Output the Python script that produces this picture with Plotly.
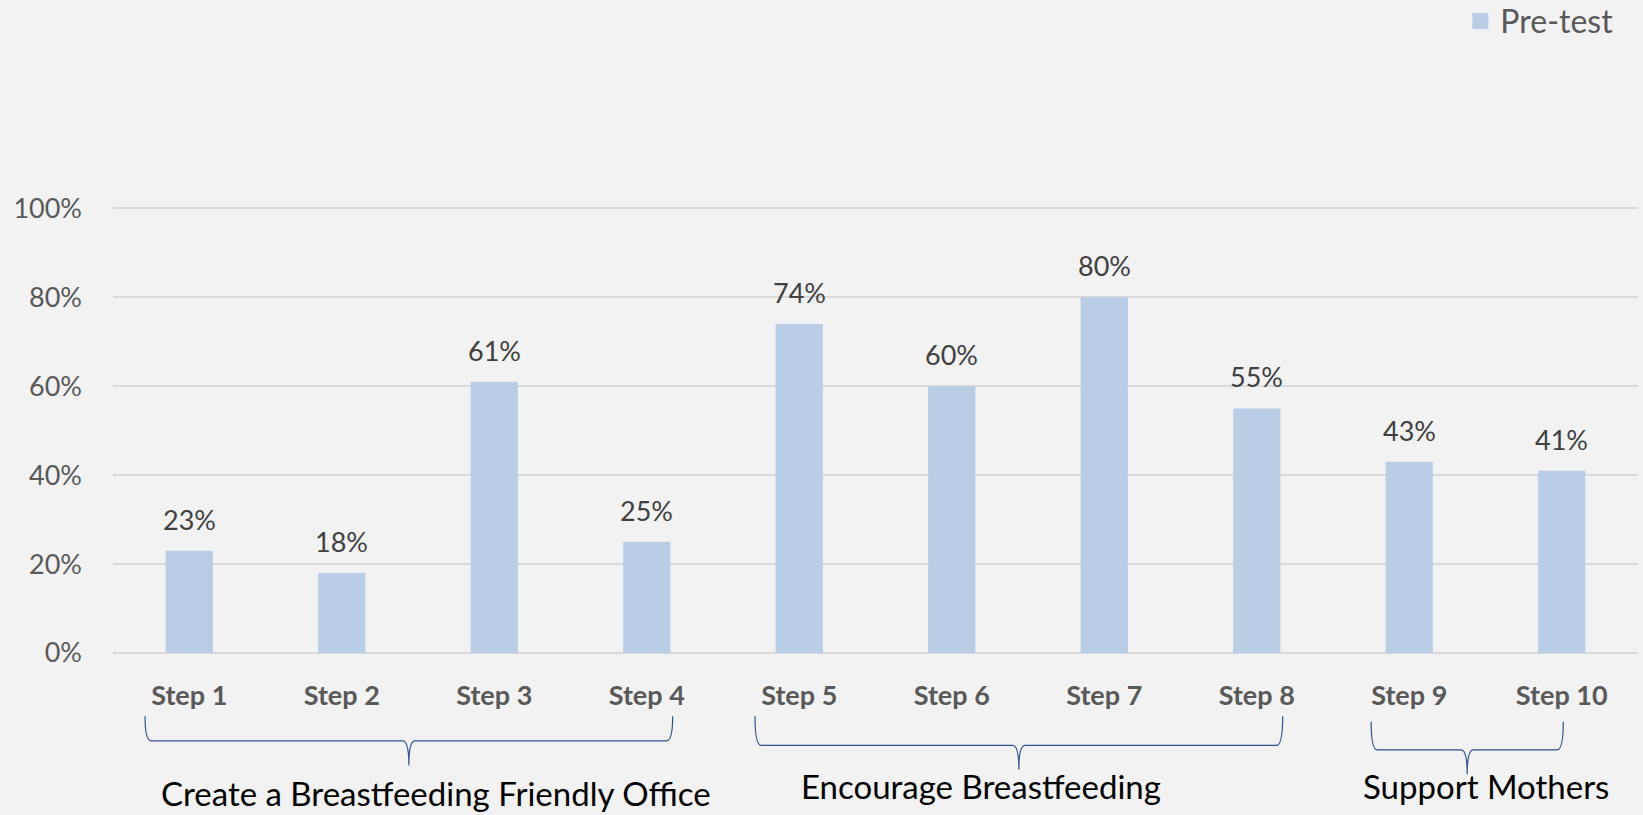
import plotly.graph_objects as go

# Chart data
steps = ["Step 1", "Step 2", "Step 3", "Step 4", "Step 5",
         "Step 6", "Step 7", "Step 8", "Step 9", "Step 10"]
pre_test = [0.23, 0.18, 0.61, 0.25, 0.74, 0.60, 0.80, 0.55, 0.43, 0.41]

group_names = ["Create a Breastfeeding Friendly Office", "Encourage Breastfeeding", "Support Mothers"]
group_first = [0, 4, 8]
group_last = [3, 7, 9]

bar_color = "#B9CDE5"
font_main = "Lato, Calibri, Arial, sans-serif"

fig = go.Figure()
fig.add_trace(go.Bar(
    x=steps, y=pre_test, name="Pre-test",
    marker=dict(color=bar_color, line=dict(width=0)),
    showlegend=False,
))
# legend entry with a bigger square swatch
fig.add_trace(go.Scatter(
    x=[None], y=[None], mode="markers", name="Pre-test",
    marker=dict(symbol="square", size=20, color=bar_color),
))

# value labels above the bars
for s, v in zip(steps, pre_test):
    fig.add_annotation(x=s, y=v, text=f"{round(v * 100)}%", showarrow=False,
                       yanchor="bottom", yshift=13,
                       font=dict(size=27, color="#404040", family=font_main))

# braces under the step labels
top, line, tip = -0.142, -0.197, -0.252
label_y = [-0.313, -0.298, -0.298]
label_dx = [0.18, -0.25, 0.12]
for name, a, b, k in zip(group_names, group_first, group_last, range(3)):
    left = a - 0.29 + (0.04 if k == 2 else 0)
    right = b + 0.17 - (0.16 if k == 2 else 0)
    mid = (left + right) / 2
    dy = 0.01 * k
    t, l, p = top - (0.012 if k == 2 else 0), line - dy, tip - dy
    d = 0.04
    path = (f"M {left},{t} Q {left},{l} {left + d},{l} L {mid - d},{l} "
            f"Q {mid},{l} {mid},{p} Q {mid},{l} {mid + d},{l} "
            f"L {right - d},{l} Q {right},{l} {right},{t}")
    fig.add_shape(type="path", path=path, xref="x", yref="paper",
                  line=dict(color="#2F528F", width=1.2))
    fig.add_annotation(x=mid + label_dx[k], y=label_y[k], xref="x", yref="paper",
                       text=name, showarrow=False, yanchor="middle",
                       font=dict(size=33, color="#000000", family=font_main))

fig.update_layout(
    width=1643, height=815,
    paper_bgcolor="#F2F2F2", plot_bgcolor="#F2F2F2",
    margin=dict(l=113, r=5, t=207, b=162),
    bargap=0.69,
    font=dict(family=font_main, color="#595959"),
    legend=dict(orientation="h", xref="container", yref="container",
                x=0.985, xanchor="right", y=0.974, yanchor="middle",
                font=dict(size=32, color="#595959"), bgcolor="rgba(0,0,0,0)",
                itemwidth=30),
    xaxis=dict(showgrid=False, showline=False, ticks="",
               tickfont=dict(size=27, color="#595959", family=font_main, weight="bold"),
               ticklabelstandoff=24),
    yaxis=dict(range=[0, 1.003], tickvals=[0, 0.2, 0.4, 0.6, 0.8, 1.0], tickformat=".0%",
               gridcolor="#D9D9D9", gridwidth=1.5, zeroline=True, zerolinecolor="#D9D9D9",
               zerolinewidth=1.5, showline=False,
               tickfont=dict(size=27, color="#595959"), ticklabelstandoff=30),
)

fig.write_html("out.html", config={"displayModeBar": False},
               post_script="document.body.style.margin='0';")
